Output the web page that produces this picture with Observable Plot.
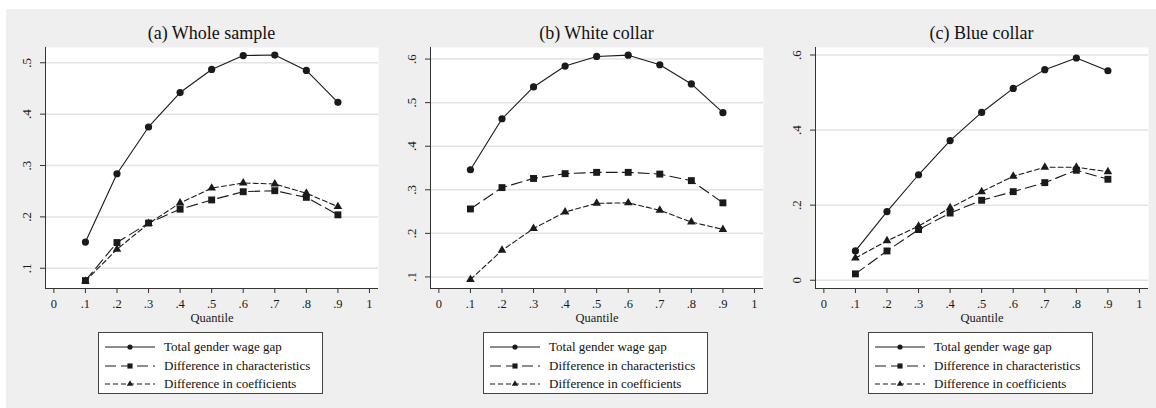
<!DOCTYPE html>
<html>
<head>
<meta charset="utf-8">
<script src="https://cdn.jsdelivr.net/npm/d3@7"></script>
<script src="https://cdn.jsdelivr.net/npm/@observablehq/plot@0.6"></script>
<style>
  body { margin: 0; background: #fff; width: 1156px; height: 408px; position: relative; overflow: hidden;
         font-family: "Liberation Serif", "Times New Roman", serif; }
  #bg { position: absolute; left: 6px; top: 9px; width: 1150px; height: 399px; background: #efefef; }
  .panel { position: absolute; top: 0; width: 385px; height: 408px; }
  .title { position: absolute; left: 45px; width: 333px; top: 23px; text-align: center; font-size: 18px;
           line-height: 20px; color: #111; }
  .plot { position: absolute; left: 0; top: 0; }
  .legend { position: absolute; left: 98px; top: 332px; width: 223px; height: 60px; border: 1px solid #444;
            background: #fff; }
  .row { position: absolute; left: 0; height: 18px; width: 223px; }
  .row svg { position: absolute; left: 0; top: 0; }
  .row span { position: absolute; left: 65px; top: 0; line-height: 18px; font-size: 13px; color: #111; white-space: nowrap; }
</style>
</head>
<body>
<div id="bg"></div>
<div id="root"></div>
<script>
// ---- data ----
const quantiles = [0.1, 0.2, 0.3, 0.4, 0.5, 0.6, 0.7, 0.8, 0.9];
const seriesNames = ["Total gender wage gap", "Difference in characteristics", "Difference in coefficients"];
const panelTitles = ["(a) Whole sample", "(b) White collar", "(c) Blue collar"];
const xAxisLabel = "Quantile";
const xTicks = [0, 0.1, 0.2, 0.3, 0.4, 0.5, 0.6, 0.7, 0.8, 0.9, 1];

const wholeTotal = [0.151, 0.284, 0.375, 0.442, 0.487, 0.514, 0.515, 0.485, 0.423];
const wholeChar  = [0.076, 0.150, 0.188, 0.215, 0.233, 0.249, 0.251, 0.238, 0.204];
const wholeCoef  = [0.075, 0.137, 0.187, 0.227, 0.256, 0.266, 0.264, 0.246, 0.220];
const wholeYTicks = [0.1, 0.2, 0.3, 0.4, 0.5];

const whiteTotal = [0.346, 0.463, 0.536, 0.584, 0.606, 0.609, 0.587, 0.543, 0.477];
const whiteChar  = [0.256, 0.305, 0.326, 0.337, 0.340, 0.340, 0.336, 0.321, 0.270];
const whiteCoef  = [0.094, 0.161, 0.211, 0.249, 0.269, 0.270, 0.253, 0.226, 0.209];
const whiteYTicks = [0.1, 0.2, 0.3, 0.4, 0.5, 0.6];

const blueTotal = [0.078, 0.183, 0.281, 0.372, 0.447, 0.511, 0.561, 0.592, 0.558];
const blueChar  = [0.017, 0.078, 0.135, 0.179, 0.213, 0.236, 0.260, 0.293, 0.269];
const blueCoef  = [0.059, 0.105, 0.144, 0.193, 0.236, 0.277, 0.301, 0.301, 0.289];
const blueYTicks = [0, 0.2, 0.4, 0.6];

// ---- layout / style ----
const panels = [
  { title: panelTitles[0], series: [wholeTotal, wholeChar, wholeCoef], yTicks: wholeYTicks, yDomain: [0.0606, 0.5297] },
  { title: panelTitles[1], series: [whiteTotal, whiteChar, whiteCoef], yTicks: whiteYTicks, yDomain: [0.0734, 0.6266] },
  { title: panelTitles[2], series: [blueTotal, blueChar, blueCoef], yTicks: blueYTicks, yDomain: [-0.022, 0.620] }
];
const xDomain = [-0.0265, 1.0286];
const seriesStyle = [
  { dash: null, symbol: "circle", r: 3.6, lr: 2.6 },
  { dash: "11,5", symbol: "square", r: 3.9, lr: 2.9 },
  { dash: "5,3", symbol: "triangle", r: 3.2, lr: 2.4 }
];
const ink = "#1a1a1a";
const fmt = d => d === 0 ? "0" : d === 1 ? "1" : d3.format(".1f")(d).replace(/^0/, "");

const root = document.getElementById("root");

panels.forEach((p, pi) => {
  const panel = document.createElement("div");
  panel.className = "panel";
  panel.style.left = (pi * 385) + "px";

  const rows = [];
  p.series.forEach((vals, si) => vals.forEach((v, i) => rows.push({ q: quantiles[i], v, s: seriesNames[si] })));

  const marks = [
    Plot.frame({ fill: "white", stroke: null }),
    Plot.gridY(p.yTicks, { stroke: "#e3e3e3", strokeOpacity: 1, strokeWidth: 1.5 }),
    Plot.ruleX([xDomain[0]], { stroke: "#333", strokeWidth: 1 }),
    Plot.ruleY([p.yDomain[0]], { stroke: "#333", strokeWidth: 1 }),
    Plot.axisX(xTicks, { tickSize: 5, tickPadding: 6, tickFormat: fmt, fontSize: 12.5, stroke: "#333", fill: "#1a1a1a" }),
    Plot.axisY(p.yTicks, { tickSize: 5, tickPadding: 10, tickRotate: -90, tickFormat: fmt, fontSize: 13, stroke: "#333", fill: "#1a1a1a" }),
    Plot.text([xAxisLabel], { text: d => d, frameAnchor: "bottom", dy: 33, fontSize: 12.5, fill: ink })
  ];
  seriesNames.forEach((name, si) => {
    const st = seriesStyle[si];
    const data = rows.filter(d => d.s === name);
    marks.push(Plot.line(data, { x: "q", y: "v", stroke: ink, strokeWidth: 1.1, strokeDasharray: st.dash || undefined }));
    marks.push(Plot.dot(data, { x: "q", y: "v", symbol: st.symbol, r: st.r, fill: ink, stroke: "none" }));
  });

  const svg = Plot.plot({
    width: 385, height: 330,
    marginLeft: 45, marginRight: 7, marginTop: 47, marginBottom: 42,
    style: { background: "transparent", fontFamily: "'Liberation Serif', 'Times New Roman', serif", fontSize: "13px", color: "#222" },
    x: { domain: xDomain, label: null },
    y: { domain: p.yDomain, label: null },
    marks
  });
  svg.classList.add("plot");
  panel.appendChild(svg);

  const title = document.createElement("div");
  title.className = "title";
  title.textContent = p.title;
  panel.appendChild(title);

  const legend = document.createElement("div");
  legend.className = "legend";
  seriesNames.forEach((name, si) => {
    const st = seriesStyle[si];
    const row = document.createElement("div");
    row.className = "row";
    row.style.top = (5 + si * 18.5) + "px";
    const ns = "http://www.w3.org/2000/svg";
    const s = document.createElementNS(ns, "svg");
    s.setAttribute("width", 62); s.setAttribute("height", 18);
    const ln = document.createElementNS(ns, "line");
    ln.setAttribute("x1", 6); ln.setAttribute("x2", 56); ln.setAttribute("y1", 9); ln.setAttribute("y2", 9);
    ln.setAttribute("stroke", ink); ln.setAttribute("stroke-width", 1.1);
    if (st.dash) ln.setAttribute("stroke-dasharray", st.dash);
    s.appendChild(ln);
    const sym = { circle: d3.symbolCircle, square: d3.symbolSquare, triangle: d3.symbolTriangle }[st.symbol];
    const path = document.createElementNS(ns, "path");
    path.setAttribute("d", d3.symbol(sym, Math.PI * st.lr * st.lr)());
    path.setAttribute("transform", "translate(31,9)");
    path.setAttribute("fill", ink);
    s.appendChild(path);
    row.appendChild(s);
    const t = document.createElement("span");
    t.textContent = name;
    row.appendChild(t);
    legend.appendChild(row);
  });
  panel.appendChild(legend);

  root.appendChild(panel);
});
</script>
</body>
</html>
